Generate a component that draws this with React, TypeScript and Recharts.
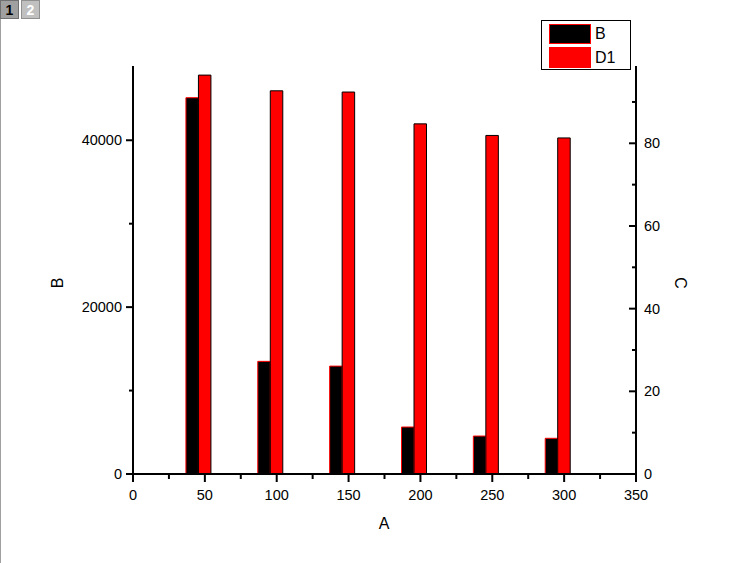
import { Bar, BarChart, XAxis, YAxis } from "recharts";

// x positions (column A)
const A = [50, 100, 150, 200, 250, 300];
// left axis series
const B = [45100, 13500, 12930, 5630, 4550, 4280];
// right axis series
const D1 = [96.5, 92.7, 92.4, 84.7, 81.9, 81.3];

const xTicks = [0, 25, 50, 75, 100, 125, 150, 175, 200, 225, 250, 275, 300, 325, 350];
const leftTicks = [0, 10000, 20000, 30000, 40000];
const rightTicks = [0, 10, 20, 30, 40, 50, 60, 70, 80, 90];

const data = A.map((a, i) => ({ A: a, B: B[i], D1: D1[i] }));

const FONT = '"Liberation Sans", Arial, sans-serif';
const TICK_FONT = 14.5;

const BottomTick = ({ x, y, payload }: any) => {
  const major = payload.value % 50 === 0;
  return (
    <g>
      <line x1={x} x2={x} y1={y} y2={y + (major ? 8 : 5)} stroke="#000" strokeWidth={2} />
      {major && (
        <text x={x} y={y + 26} textAnchor="middle" fontSize={TICK_FONT} fontFamily={FONT} fill="#000">
          {payload.value}
        </text>
      )}
    </g>
  );
};

const LeftTick = ({ x, y, payload }: any) => {
  const major = payload.value % 20000 === 0;
  return (
    <g>
      <line x1={x} x2={x - (major ? 7 : 4)} y1={y} y2={y} stroke="#000" strokeWidth={2} />
      {major && (
        <text x={x - 11} y={y + 5} textAnchor="end" fontSize={TICK_FONT} fontFamily={FONT} fill="#000">
          {payload.value}
        </text>
      )}
    </g>
  );
};

const RightTick = ({ x, y, payload }: any) => {
  const major = payload.value % 20 === 0;
  return (
    <g>
      <line x1={x} x2={x - (major ? 7 : 4)} y1={y} y2={y} stroke="#000" strokeWidth={2} />
      {major && (
        <text x={x + 8} y={y + 5} textAnchor="start" fontSize={TICK_FONT} fontFamily={FONT} fill="#000">
          {payload.value}
        </text>
      )}
    </g>
  );
};

const Tabs = () => (
  <>
    <div
      style={{
        position: "absolute", left: 0, top: 0, width: 19, height: 19,
        background: "#a0a0a0", border: "1px solid #707070", boxSizing: "border-box",
        font: `bold 14px ${FONT}`, color: "#000", textAlign: "center", lineHeight: "18px",
      }}
    >
      1
    </div>
    <div
      style={{
        position: "absolute", left: 21, top: 0, width: 19, height: 19,
        background: "#c0c0c0", border: "1px solid #909090", boxSizing: "border-box",
        font: `bold 14px ${FONT}`, color: "#fff", textAlign: "center", lineHeight: "18px",
      }}
    >
      2
    </div>
    <div style={{ position: "absolute", left: 0, top: 19, width: 1, height: 544, background: "#a0a0a0" }} />
  </>
);

const LegendBox = () => (
  <div
    style={{
      position: "absolute", left: 541, top: 20, width: 90, height: 50,
      border: "1px solid #000", background: "#fff", boxSizing: "border-box",
      font: `16px ${FONT}`, color: "#000",
    }}
  >
    <div style={{ position: "absolute", left: 7, top: 3, width: 42, height: 20, background: "#000", border: "1px solid #f00", boxSizing: "border-box" }} />
    <div style={{ position: "absolute", left: 53, top: 3, lineHeight: "20px" }}>B</div>
    <div style={{ position: "absolute", left: 7, top: 26, width: 42, height: 21, background: "#f00", boxSizing: "border-box" }} />
    <div style={{ position: "absolute", left: 53, top: 26, lineHeight: "21px" }}>D1</div>
  </div>
);

const Title = ({ text, left, top, rotate }: { text: string; left: number; top: number; rotate: number }) => (
  <div
    style={{
      position: "absolute", left, top, width: 0, height: 0,
      font: `16px ${FONT}`, color: "#000",
    }}
  >
    <div style={{ position: "absolute", transform: `translate(-50%, -50%) rotate(${rotate}deg)`, whiteSpace: "nowrap" }}>
      {text}
    </div>
  </div>
);

export default function App() {
  return (
    <div style={{ position: "absolute", left: 0, top: 0, width: 732, height: 563, background: "#fff", overflow: "hidden" }}>
      <BarChart
        width={732}
        height={563}
        data={data}
        margin={{ top: 66, right: 0, bottom: 0, left: 0 }}
        barGap={0}
        barSize={12.5}
      >
        <XAxis
          xAxisId="x"
          dataKey="A"
          type="number"
          domain={[0, 350]}
          ticks={xTicks}
          interval={0}
          height={89}
          tickSize={0}
          tickMargin={0}
          tickLine={false}
          tick={<BottomTick />}
          axisLine={{ stroke: "#000", strokeWidth: 2 }}
          allowDataOverflow
        />
        <YAxis
          yAxisId="left"
          orientation="left"
          width={133}
          domain={[0, 48900]}
          ticks={leftTicks}
          interval={0}
          tickSize={0}
          tickMargin={0}
          tickLine={false}
          tick={<LeftTick />}
          axisLine={{ stroke: "#000", strokeWidth: 2 }}
          allowDataOverflow
        />
        <YAxis
          yAxisId="right"
          orientation="right"
          width={96}
          domain={[0, 98.7]}
          ticks={rightTicks}
          interval={0}
          tickSize={0}
          tickMargin={0}
          tickLine={false}
          tick={<RightTick />}
          axisLine={{ stroke: "#000", strokeWidth: 2 }}
          allowDataOverflow
        />
        <Bar xAxisId="x" yAxisId="left" dataKey="B" fill="#000" stroke="#f00" strokeWidth={1} isAnimationActive={false} />
        <Bar xAxisId="x" yAxisId="right" dataKey="D1" fill="#f00" stroke="#000" strokeWidth={1} isAnimationActive={false} />
        {/* empty slot so the red column sits on its x value, black one to its left */}
        <Bar xAxisId="x" yAxisId="right" dataKey="spacer" fill="none" legendType="none" isAnimationActive={false} />
      </BarChart>
      <Tabs />
      <LegendBox />
      <Title text="A" left={384} top={524} rotate={0} />
      <Title text="B" left={58} top={283} rotate={-90} />
      <Title text="C" left={680} top={283} rotate={90} />
    </div>
  );
}
